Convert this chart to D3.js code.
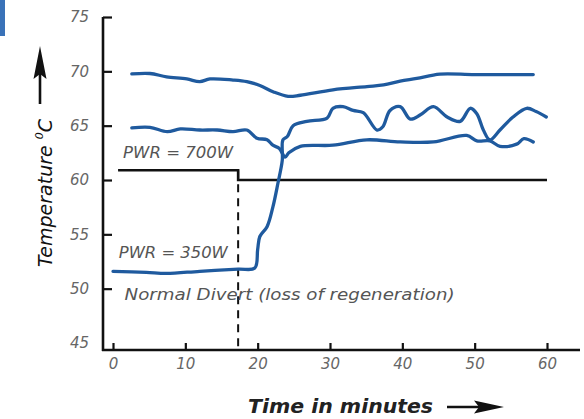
<!DOCTYPE html>
<html><head><meta charset="utf-8">
<script src="https://cdn.jsdelivr.net/npm/d3@7"></script>
<style>
body{margin:0;background:#fff;}
svg{display:block;}
</style></head>
<body>
<svg id="c" width="584" height="419"></svg>
<script>
// ---- data ----
const xTicks = [0,10,20,30,40,50,60];
const yTicks = [45,50,55,60,65,70,75];

const topTime = [2.6,5.1,7.4,10.2,12.0,13.4,16.6,18.5,20.3,22.2,24.2,25.9,30.4,35.1,37.4,39.7,42.0,45.2,50,58.1];
const topTemp = [69.76,69.8,69.5,69.3,69.05,69.3,69.2,69.05,68.7,68.1,67.7,67.8,68.3,68.6,68.75,69.1,69.35,69.75,69.7,69.7];

const midTime = [2.6,5.1,7.5,9.3,12.0,14.4,16.6,18.5,19.9,21.3,22.1,23.0,23.8,24.3,25.9,30.4,35.1,39.7,44.3,48.9,50.3,52.1,53.5,55.8,56.8,58.1];
const midTemp = [64.8,64.85,64.45,64.7,64.6,64.6,64.45,64.6,63.85,63.7,63.2,62.9,62.1,62.5,63.1,63.2,63.7,63.5,63.5,64.1,63.6,63.6,63.1,63.3,63.8,63.5];

const lowTime = [0,4.6,7.4,12.0,17.3,19.6,20.0,20.3,21.3,22.1,22.8,23.4,23.5,24.1,24.9,26.8,29.6,30.4,31.8,33.2,34.6,36.5,37.3,38.3,39.7,41.1,42.5,44.3,46.2,48.0,49.4,50.3,51.2,52.1,53.5,55.3,57.2,58.5,59.9];
const lowTemp = [51.6,51.5,51.4,51.6,51.8,51.9,53.6,54.8,55.7,57.5,59.7,61.8,63.7,64.0,65.0,65.4,65.7,66.6,66.75,66.4,66.2,64.6,64.9,66.4,66.75,65.6,66.0,66.75,65.8,65.4,66.6,66.1,64.6,63.7,64.6,65.8,66.6,66.3,65.8];

const powerTime = [0.7,17.3,17.3,60];
const powerVal  = [60.9,60.9,60.0,60.0];
const switchTime = 17.3;

const labels = {pwrHigh:"PWR = 700W", pwrLow:"PWR = 350W", note:"Normal Divert (loss of regeneration)"};

// ---- drawing ----
const svg = d3.select("#c");
const x = d3.scaleLinear().domain([0,60]).range([113,547]);
const y = d3.scaleLinear().domain([45,75]).range([343,17]);
const axisY = 350, axisX = 103;
const tickFont = "DejaVu Sans, sans-serif";

// decorative blue edge at top-left
svg.append("rect").attr("x",0).attr("y",0).attr("width",5).attr("height",36).attr("fill","#3a72b8");

// x axis
const gx = svg.append("g").attr("transform",`translate(0,${axisY})`)
  .call(d3.axisBottom(x).tickValues(xTicks).tickSize(-7).tickPadding(8));
gx.select(".domain").remove();
gx.selectAll(".tick line").attr("stroke","#111").attr("stroke-width",2.2);
gx.selectAll(".tick text").attr("fill","#666").attr("font-size",15)
  .attr("font-style","italic").attr("font-family",tickFont);
svg.append("line").attr("x1",axisX-1).attr("x2",580).attr("y1",axisY).attr("y2",axisY)
  .attr("stroke","#111").attr("stroke-width",2.6);

// y axis
const gy = svg.append("g").attr("transform",`translate(${axisX},0)`)
  .call(d3.axisLeft(y).tickValues(yTicks).tickSize(-9).tickPadding(14));
gy.select(".domain").remove();
gy.selectAll(".tick line").attr("stroke","#111").attr("stroke-width",2.2)
  .attr("display",d=>d===45?"none":null);
gy.selectAll(".tick text").attr("fill","#666").attr("font-size",15)
  .attr("font-style","italic").attr("font-family",tickFont);
svg.append("line").attr("x1",axisX).attr("x2",axisX).attr("y1",y(75)).attr("y2",axisY+1)
  .attr("stroke","#111").attr("stroke-width",2.6);

// power step line
const pline = d3.line().x((d,i)=>x(powerTime[i])).y((d,i)=>y(powerVal[i]));
svg.append("path").attr("d",pline(powerTime)).attr("fill","none")
  .attr("stroke","#111").attr("stroke-width",2.6);
svg.append("line").attr("x1",x(switchTime)).attr("x2",x(switchTime))
  .attr("y1",y(60.9)).attr("y2",axisY-2)
  .attr("stroke","#111").attr("stroke-width",2).attr("stroke-dasharray","8,6");

// temperature series
const blue = "#1f5a9e";
function drawSeries(ts, vs){
  const line = d3.line().x((d,i)=>x(ts[i])).y((d,i)=>y(vs[i])).curve(d3.curveCatmullRom.alpha(0.5));
  svg.append("path").attr("d",line(ts)).attr("fill","none")
    .attr("stroke",blue).attr("stroke-width",3.3).attr("stroke-linejoin","round").attr("stroke-linecap","round");
}
drawSeries(topTime, topTemp);
drawSeries(midTime, midTemp);
drawSeries(lowTime, lowTemp);

// annotations
const ann = (t, tx, ty, w) => svg.append("text").attr("x",tx).attr("y",ty).text(t)
  .attr("fill","#555").attr("font-size",15).attr("font-style","italic").attr("font-family",tickFont)
  .attr("textLength",w).attr("lengthAdjust","spacingAndGlyphs");
ann(labels.pwrHigh, x(1.4), y(62.0), 110);
ann(labels.pwrLow, x(0.8), y(52.8), 109);
ann(labels.note, x(1.6), y(49.0), 330);

// y title
const yt = svg.append("text").attr("transform","translate(52,193) rotate(-90)")
  .attr("text-anchor","middle").attr("font-size",19).attr("font-style","italic")
  .attr("font-family","DejaVu Sans, sans-serif").attr("fill","#111");
yt.append("tspan").text("Temperature ");
yt.append("tspan").text("0").attr("font-size",11).attr("dy",-9);
yt.append("tspan").text("C").attr("dy",9);

// y arrow
svg.append("line").attr("x1",40).attr("x2",40).attr("y1",104).attr("y2",70).attr("stroke","#111").attr("stroke-width",2.6);
svg.append("path").attr("d","M40,46 L33.5,79 L40,74 L46.5,79 Z").attr("fill","#111");

// x title
svg.append("text").attr("x",248).attr("y",413).text("Time in minutes")
  .attr("font-size",20).attr("font-style","italic").attr("font-weight","bold")
  .attr("font-family","DejaVu Sans, sans-serif").attr("fill","#222")
  .attr("textLength",185).attr("lengthAdjust","spacingAndGlyphs");
svg.append("line").attr("x1",447).attr("x2",482).attr("y1",407).attr("y2",407).attr("stroke","#111").attr("stroke-width",2.6);
svg.append("path").attr("d","M504,407 L474,400.5 L479,407 L474,413.5 Z").attr("fill","#111");
</script>
</body></html>
